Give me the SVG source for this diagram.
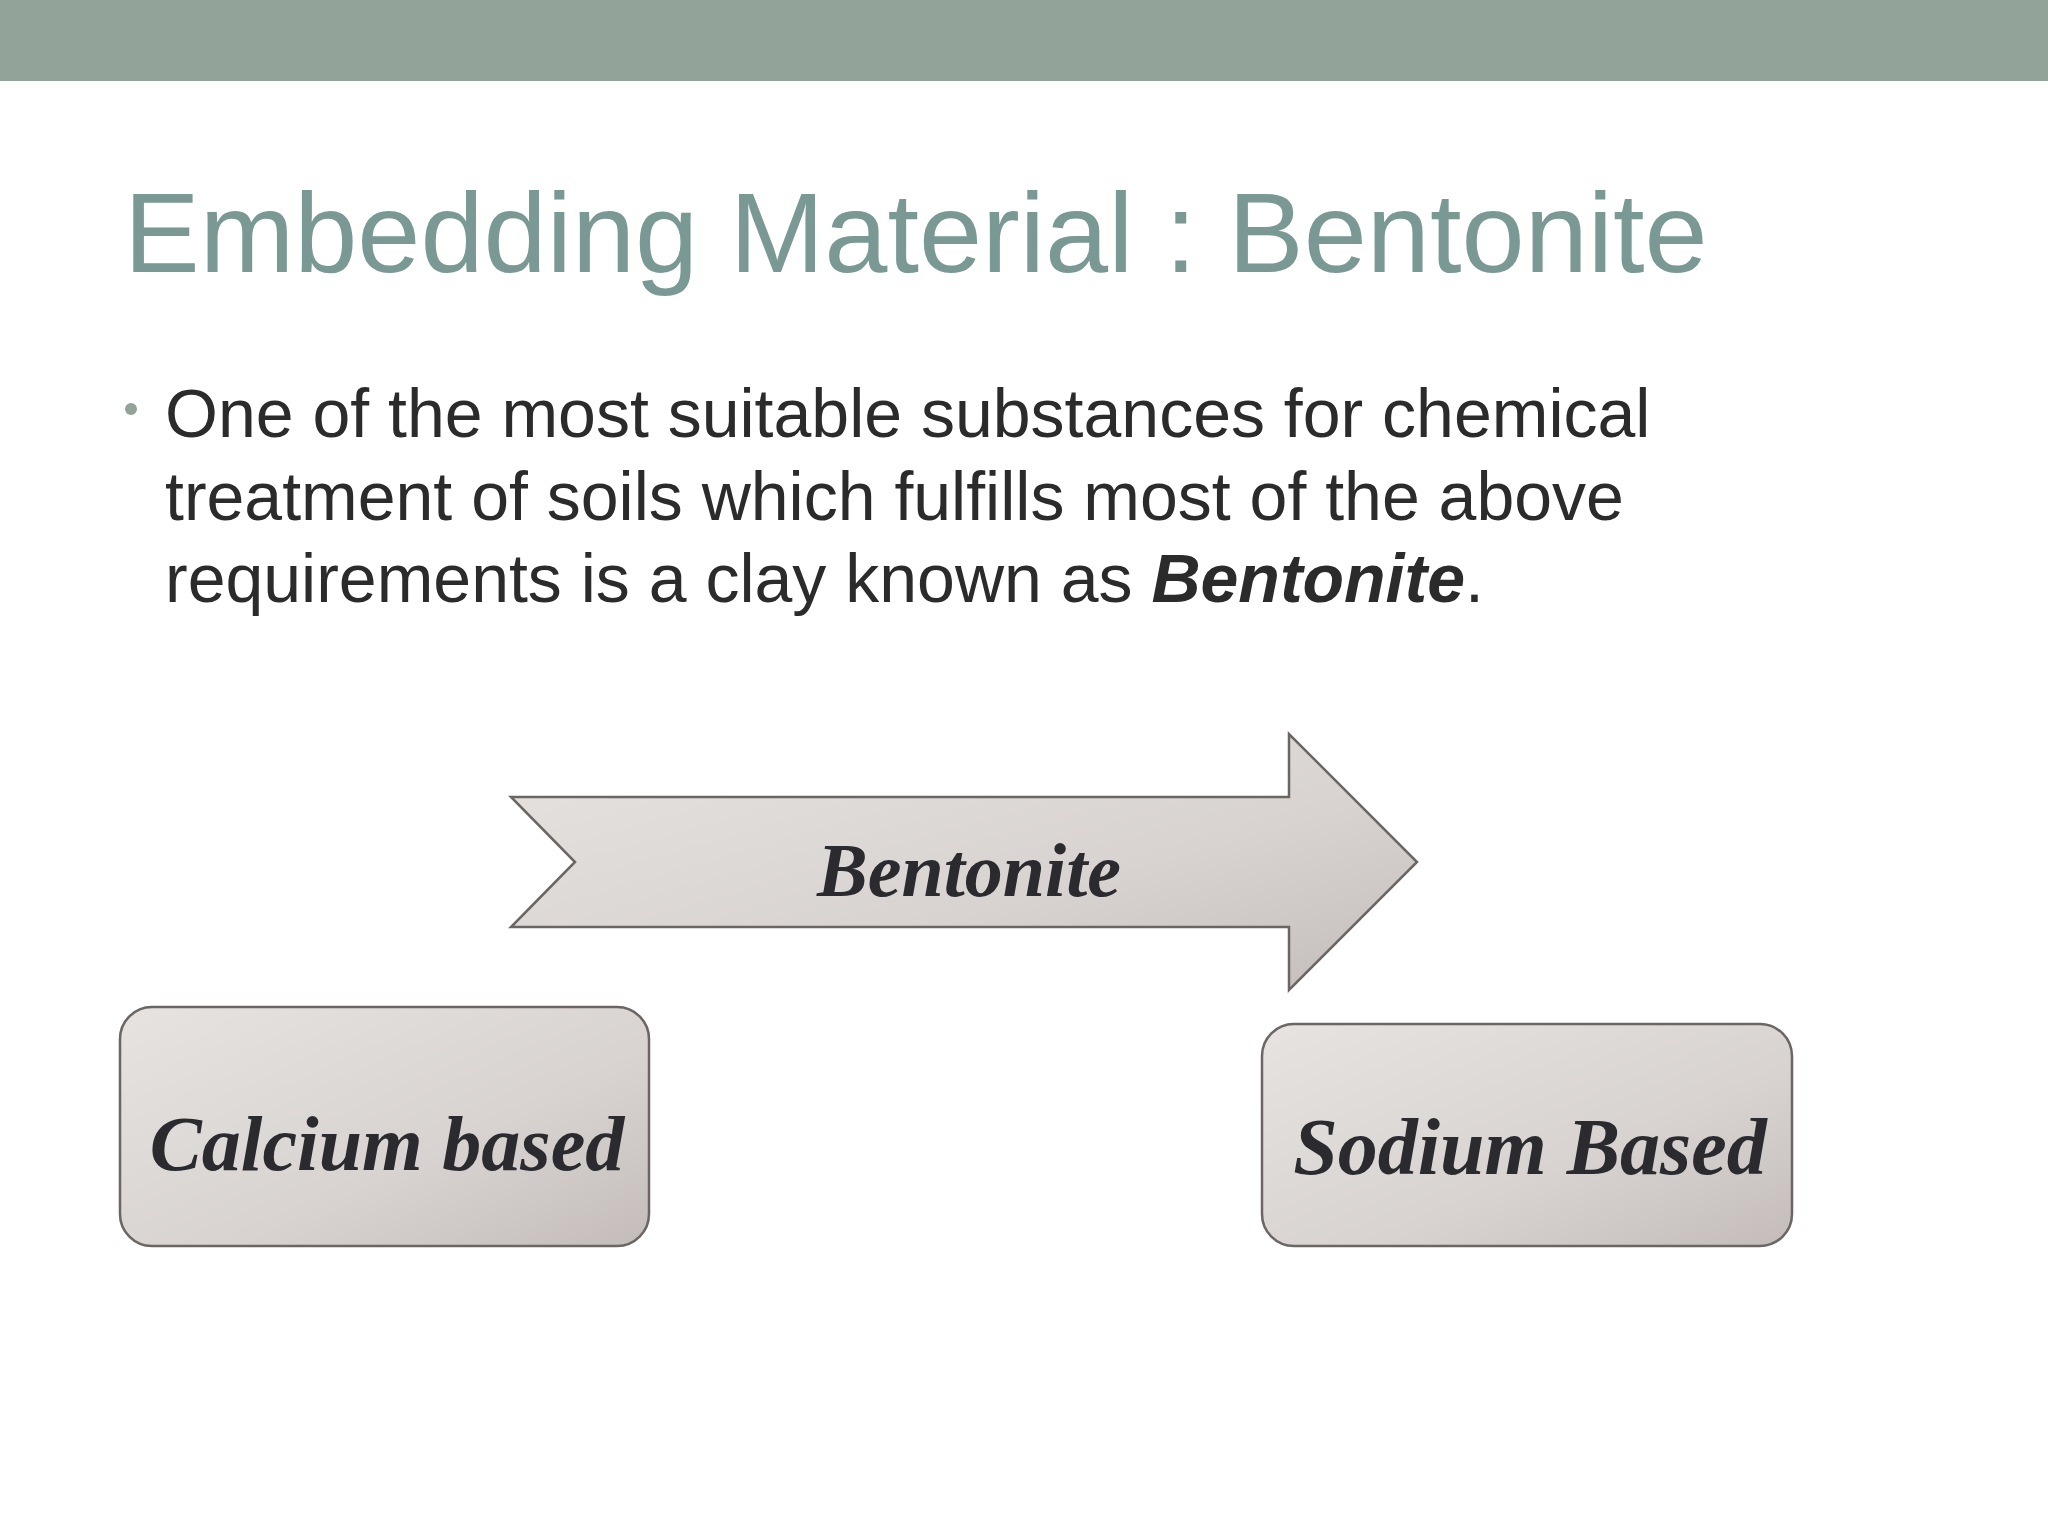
<svg xmlns="http://www.w3.org/2000/svg" width="2048" height="1536" viewBox="0 0 2048 1536">
<defs>
<linearGradient id="g" x1="0" y1="0" x2="1" y2="1">
<stop offset="0" stop-color="#e6e3e1"/><stop offset="0.6" stop-color="#d8d3d1"/><stop offset="1" stop-color="#c3bcba"/>
</linearGradient>
<style>
.shape{fill:url(#g);stroke:#6b6563;stroke-width:2.5}
.lbl{font-family:"Liberation Serif",serif;font-style:italic;font-weight:bold;fill:#2a2a2f;text-anchor:middle}
.body{font-family:"Liberation Sans",Arial,sans-serif;font-size:68px;fill:#2b2b2b}
</style>
</defs>
<rect width="2048" height="1536" fill="#fff"/>
<rect width="2048" height="81" fill="#92a399"/>
<text x="124" y="272" font-family="Liberation Sans,Arial,sans-serif" font-size="113.5" fill="#7a9995">Embedding Material : Bentonite</text>
<circle cx="131" cy="409" r="6" fill="#92a399"/>
<text class="body" x="165" y="437">One of the most suitable substances for chemical</text>
<text class="body" x="165" y="520">treatment of soils which fulfills most of the above</text>
<text class="body" x="165" y="602">requirements is a clay known as <tspan font-weight="bold" font-style="italic">Bentonite</tspan>.</text>
<g id="arrow">
<polygon class="shape" points="511,797 1289,797 1289,734 1417,862 1289,990 1289,927 511,927 575,862"/>
<text class="lbl" x="969" y="896" font-size="76">Bentonite</text>
</g>
<g id="calcium">
<rect class="shape" x="120" y="1007" width="529" height="239" rx="32"/>
<text class="lbl" x="387" y="1170" font-size="78">Calcium based</text>
</g>
<g id="sodium">
<rect class="shape" x="1262" y="1024" width="530" height="222" rx="32"/>
<text class="lbl" x="1530" y="1174" font-size="80">Sodium Based</text>
</g>
<g id="connectors"/>
</svg>
